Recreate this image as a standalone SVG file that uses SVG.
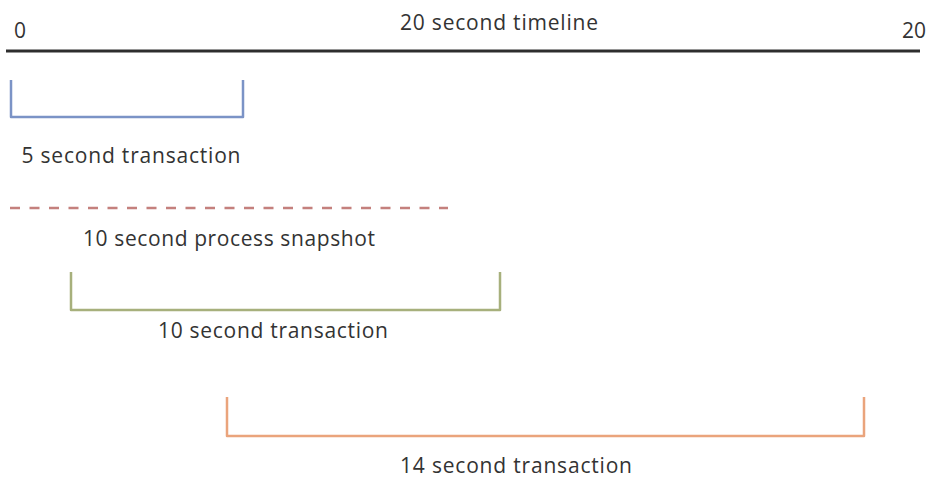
<svg xmlns="http://www.w3.org/2000/svg" width="927" height="478" viewBox="0 0 927 478">
<style>
text{font-family:"Open Sans","Noto Sans",sans-serif;font-size:21px;fill:#333}
.br{fill:none;stroke-width:2.5;stroke-linejoin:round}
</style>
<rect width="927" height="478" fill="#fff"/>
<g id="timeline">
<line x1="6" y1="51" x2="920" y2="51" stroke="#2e2e2e" stroke-width="3"/>
<text x="14" y="38" font-size="19">0</text>
<text x="499" y="30" text-anchor="middle" textLength="198" font-size="20">20 second timeline</text>
<text x="926" y="38" text-anchor="end" font-size="20">20</text>
</g>
<g id="connectors">
<path class="br" stroke="#7b93c6" d="M11,80 V117 H243 V80"/>
<line x1="10" y1="208" x2="448" y2="208" stroke="#c4807d" stroke-width="2.5" stroke-dasharray="10,9.5"/>
<path class="br" stroke="#a7b07c" d="M71,272 V310 H500 V272"/>
<path class="br" stroke="#eaa47c" d="M227,397 V436 H864 V397"/>
</g>
<g id="t5"><text x="131" y="163" text-anchor="middle" textLength="219">5 second transaction</text></g>
<g id="snap"><text x="229" y="246" text-anchor="middle" textLength="292">10 second process snapshot</text></g>
<g id="t10"><text x="273" y="338" text-anchor="middle" textLength="230">10 second transaction</text></g>
<g id="t14"><text x="516" y="473" text-anchor="middle" textLength="232">14 second transaction</text></g>
</svg>
